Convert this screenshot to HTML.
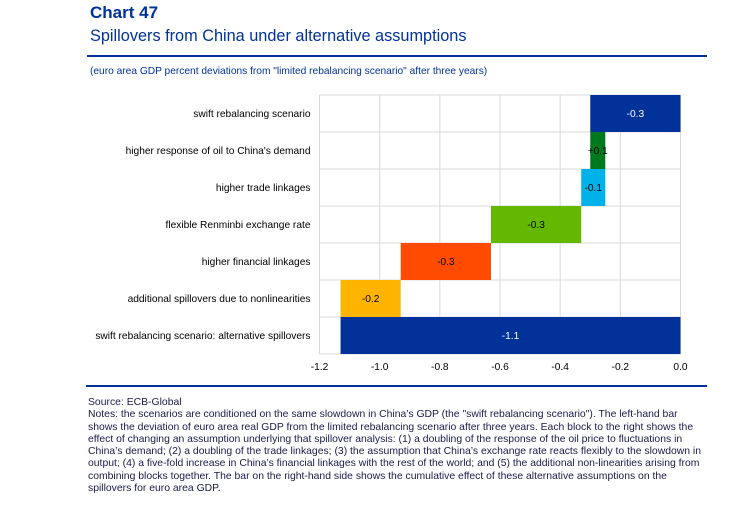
<!DOCTYPE html>
<html><head><meta charset="utf-8">
<style>
body{margin:0;background:#fff;width:750px;height:508px;overflow:hidden;font-family:"Liberation Sans",Arial,sans-serif;}
.abs{position:absolute;}
#title{left:90px;top:3px;font-size:17px;font-weight:bold;color:#003299;}
#subtitle{left:90px;top:27px;font-size:16.3px;color:#003299;}
#rule1{left:87px;top:55px;width:620px;height:2px;background:#003299;}
#units{left:90px;top:66px;font-size:10.2px;color:#003299;}
#rule2{left:86px;top:385px;width:621px;height:2px;background:#003299;}
#notes{left:88px;top:397px;width:630px;height:105px;font-size:10.4px;color:#1a1a4a;white-space:nowrap;}
#notes div{position:absolute;left:0;line-height:12px;}
</style></head><body>
<div class="abs" id="title">Chart 47</div>
<div class="abs" id="subtitle">Spillovers from China under alternative assumptions</div>
<div class="abs" id="rule1"></div>
<div class="abs" id="units">(euro area GDP percent deviations from "limited rebalancing scenario" after three years)</div>
<svg class="abs" style="left:0;top:0" width="750" height="508" id="chart"></svg>
<div class="abs" id="rule2"></div>
<div class="abs" id="notes">
<div style="top:0px">Source: ECB-Global</div>
<div style="top:12.25px">Notes: the scenarios are conditioned on the same slowdown in China’s GDP (the "swift rebalancing scenario"). The left-hand bar</div>
<div style="top:24.5px">shows the deviation of euro area real GDP from the limited rebalancing scenario after three years. Each block to the right shows the</div>
<div style="top:36.75px">effect of changing an assumption underlying that spillover analysis: (1) a doubling of the response of the oil price to fluctuations in</div>
<div style="top:49px">China’s demand; (2) a doubling of the trade linkages; (3) the assumption that China’s exchange rate reacts flexibly to the slowdown in</div>
<div style="top:61.25px">output; (4) a five-fold increase in China’s financial linkages with the rest of the world; and (5) the additional non-linearities arising from</div>
<div style="top:73.5px">combining blocks together. The bar on the right-hand side shows the cumulative effect of these alternative assumptions on the</div>
<div style="top:85.75px">spillovers for euro area GDP.</div>
</div>
<script>
const categories=["swift rebalancing scenario","higher response of oil to China's demand","higher trade linkages","flexible Renminbi exchange rate","higher financial linkages","additional spillovers due to nonlinearities","swift rebalancing scenario: alternative spillovers"];
const starts=[0,-0.30,-0.25,-0.33,-0.63,-0.93,0];
const ends=[-0.30,-0.25,-0.33,-0.63,-0.93,-1.13,-1.13];
const values=["-0.3","+0.1","-0.1","-0.3","-0.3","-0.2","-1.1"];
const colors=["#003299","#00781e","#00b1ea","#65b800","#ff4b00","#ffb400","#003299"];
const labelColors=["#fff","#000","#000","#000","#000","#000","#fff"];
const ticks=[-1.2,-1.0,-0.8,-0.6,-0.4,-0.2,0.0];
const tickLabels=["-1.2","-1.0","-0.8","-0.6","-0.4","-0.2","0.0"];

const svg=document.getElementById('chart');
const NS="http://www.w3.org/2000/svg";
const L=319.5,R=680.5,T=95,B=354,xmin=-1.2,xmax=0;
const rowH=(B-T)/categories.length;
const FS='10.2px';
function x(v){return L+(v-xmin)/(xmax-xmin)*(R-L);}
function y(i){return T+i*rowH;}
function mk(tag,attrs){const e=document.createElementNS(NS,tag);for(const k in attrs)e.setAttribute(k,attrs[k]);svg.appendChild(e);return e;}

ticks.forEach((t,i)=>{
  const g=mk('line',{x1:x(t),x2:x(t),y1:T,y2:B,stroke:'#d9d9d9','stroke-width':1});
  
  
  const tl=mk('text',{x:x(t),y:B+16,'text-anchor':'middle','font-size':FS,'font-family':'Liberation Sans, Arial, sans-serif',fill:'#000'});
  tl.textContent=tickLabels[i];
  
  
});
for(let i=0;i<=categories.length;i++){
  const g=mk('line',{x1:L,x2:R,y1:y(i),y2:y(i),stroke:'#d9d9d9','stroke-width':1});
  
  
}
categories.forEach((c,i)=>{
  const a=Math.min(starts[i],ends[i]),b=Math.max(starts[i],ends[i]);
  const r=mk('rect',{x:x(a),y:y(i),width:x(b)-x(a),height:rowH,fill:colors[i]});
  
  
  const vl=mk('text',{x:(x(a)+x(b))/2,y:y(i)+rowH/2+3.5,'text-anchor':'middle','font-size':FS,'font-family':'Liberation Sans, Arial, sans-serif',fill:labelColors[i]});
  vl.textContent=values[i];
  
  
  const cl=mk('text',{x:L-9,y:y(i)+rowH/2+3.5,'text-anchor':'end','font-size':FS,'font-family':'Liberation Sans, Arial, sans-serif',fill:'#000'});
  cl.textContent=c;
  
  
});
</script>
</body></html>
